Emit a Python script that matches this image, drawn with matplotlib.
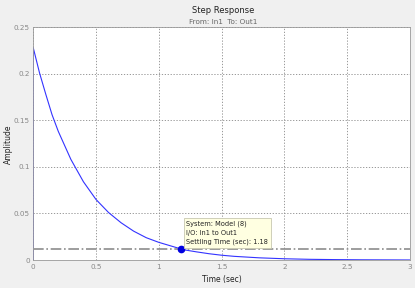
import matplotlib.pyplot as plt

# step response
time = [0, 0.05, 0.1, 0.15, 0.2, 0.3, 0.4, 0.5, 0.6, 0.7, 0.8, 0.9, 1.0,
        1.1, 1.2, 1.3, 1.4, 1.5, 1.6, 1.8, 2.0, 2.2, 2.4, 2.6, 2.8, 3.0]
amplitude = [0.228, 0.201, 0.178, 0.156, 0.138, 0.108, 0.084, 0.065, 0.051,
             0.040, 0.031, 0.024, 0.019, 0.015, 0.011, 0.0088, 0.0068,
             0.0052, 0.0040, 0.0024, 0.0014, 0.0008, 0.0005, 0.0003,
             0.0002, 0.0001]
settle_time = 1.18
settle_value = 0.0115
settle_level = 0.0114
xticks = [0, 0.5, 1, 1.5, 2, 2.5, 3]
yticks = [0, 0.05, 0.1, 0.15, 0.2, 0.25]

fig = plt.figure(figsize=(4.15, 2.88), dpi=100, facecolor='#f0f0f0')
ax = fig.add_axes([0.08, 0.097, 0.908, 0.809])

# step at t=0 then decay
ax.plot([0] + time, [0] + amplitude, color='#3333ff', lw=0.8)
ax.axhline(settle_level, color='#8c8c8c', lw=1.2, ls='-.')
ax.plot(settle_time, settle_value, 'o', color='#0000e0', ms=4.5)

ax.annotate('System: Model (8)\nI/O: In1 to Out1\nSettling Time (sec): 1.18',
            xy=(settle_time, settle_value), xytext=(1.22, 0.0175),
            fontsize=4.8, color='#222222', linespacing=1.6,
            bbox=dict(boxstyle='square,pad=0.4', fc='#ffffe1', ec='#c8c8b0', lw=0.6))

ax.set_xlim(0, 3)
ax.set_ylim(0, 0.25)
ax.set_xticks(xticks)
ax.set_xticklabels(['0', '0.5', '1', '1.5', '2', '2.5', '3'])
ax.set_yticks(yticks)
ax.set_yticklabels(['0', '0.05', '0.1', '0.15', '0.2', '0.25'])
ax.grid(True, ls=(0, (1.5, 2)), color='#888888', lw=0.6)
ax.tick_params(labelsize=5.2, colors='#888888', length=0, pad=2.5)
for s in ax.spines.values():
    s.set_color('#999999')
    s.set_linewidth(0.6)

ax.set_xlabel('Time (sec)', fontsize=5.5, color='#222222', labelpad=4)
fig.text(0.02, 0.5, 'Amplitude', rotation=90, ha='center', va='center',
         fontsize=5.5, color='#222222')
fig.text(0.537, 0.955, 'Step Response', ha='center', fontsize=6, color='#222222')
fig.text(0.537, 0.918, 'From: In1  To: Out1', ha='center', fontsize=5.2, color='#666666')

fig.savefig('out.png', dpi=100, facecolor=fig.get_facecolor())
